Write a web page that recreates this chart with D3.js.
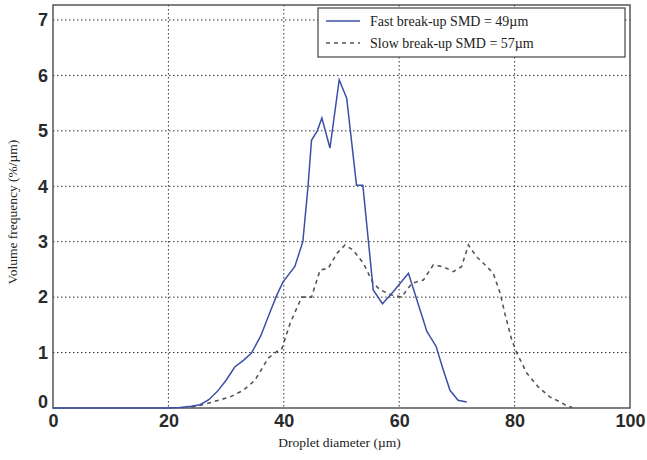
<!DOCTYPE html>
<html>
<head>
<meta charset="utf-8">
<script src="https://cdn.jsdelivr.net/npm/d3@7.9.0/dist/d3.min.js"></script>
<style>
  body { margin: 0; background: #fff; }
  svg { display: block; }
  .tick text { font-family: "Liberation Sans", Arial, sans-serif; font-size: 18px; font-weight: bold; fill: #2a2a2a; }
  .title { font-family: "Liberation Serif", "Times New Roman", serif; font-size: 13.5px; fill: #222; }
  .legend text { font-family: "Liberation Serif", "Times New Roman", serif; font-size: 14px; fill: #222; }
</style>
</head>
<body>
<svg id="chart" width="647" height="460"></svg>
<script>
// fast break-up curve (diameter in um, volume frequency in %/um)
const fastD = [0, 10, 20, 22, 24, 25.5, 27, 28.5, 30, 31.5, 33, 34.4, 36, 37.5, 38.8, 39.9, 41.9, 43.3, 44.2, 44.8, 45.8, 46.6, 48, 49.6, 50.9, 52.6, 53.7, 55.5, 57.1, 59, 61.6, 62.7, 64.8, 66.4, 67.6, 68.8, 70.2, 71.7];
const fastV = [0, 0, 0, 0.01, 0.03, 0.06, 0.15, 0.3, 0.5, 0.74, 0.86, 0.99, 1.3, 1.7, 2.04, 2.28, 2.55, 3.0, 4.0, 4.83, 5.0, 5.23, 4.69, 5.92, 5.59, 4.02, 4.02, 2.13, 1.88, 2.1, 2.43, 2.07, 1.38, 1.11, 0.7, 0.32, 0.14, 0.11];

// slow break-up curve
const slowD = [24, 26, 27.7, 30.7, 33, 35, 37.3, 38.8, 39.6, 41.1, 43.1, 44.8, 46.3, 47.7, 49.2, 50.6, 52, 53.8, 55.5, 56.7, 58.7, 60.4, 62.2, 64.2, 65.9, 67.6, 69.4, 70.8, 72, 73.4, 74.9, 76.3, 77.5, 78.3, 79.5, 80.4, 82.1, 84.1, 86.1, 87.9, 89, 90];
const slowV = [0.02, 0.06, 0.11, 0.2, 0.32, 0.5, 0.9, 1.02, 1.05, 1.53, 2.0, 2.0, 2.49, 2.52, 2.79, 2.94, 2.85, 2.61, 2.25, 2.13, 2.04, 2.0, 2.25, 2.31, 2.58, 2.55, 2.46, 2.55, 2.94, 2.73, 2.58, 2.43, 2.07, 1.71, 1.23, 0.99, 0.63, 0.38, 0.2, 0.11, 0.04, 0.01];

const xTicks = [0, 20, 40, 60, 80, 100];
const yTicks = [0, 1, 2, 3, 4, 5, 6, 7];
const legendLabels = ["Fast break-up SMD = 49\u00b5m", "Slow break-up SMD = 57\u00b5m"];

const svg = d3.select("#chart");
const mLeft = 53, mRight = 630, mTop = 5, mBottom = 408;

const x = d3.scaleLinear().domain([0, 100]).range([mLeft, mRight]);
const y = d3.scaleLinear().domain([0, 7.27]).range([mBottom, mTop]);

// grid
const grid = svg.append("g").attr("stroke", "#333").attr("stroke-width", 1).attr("stroke-dasharray", "1.5,2.5");
grid.selectAll(".gx").data(xTicks.slice(1, -1)).enter().append("line")
  .attr("x1", d => x(d)).attr("x2", d => x(d)).attr("y1", mTop).attr("y2", mBottom);
grid.selectAll(".gy").data(yTicks.slice(1)).enter().append("line")
  .attr("y1", d => y(d)).attr("y2", d => y(d)).attr("x1", mLeft).attr("x2", mRight);

// frame
svg.append("rect").attr("x", mLeft).attr("y", mTop).attr("width", mRight - mLeft).attr("height", mBottom - mTop)
  .attr("fill", "none").attr("stroke", "#555").attr("stroke-width", 1.5);

// axes
const xAxis = svg.append("g").attr("transform", `translate(0,${mBottom})`)
  .call(d3.axisBottom(x).tickValues(xTicks).tickSize(0).tickPadding(6));
xAxis.select(".domain").remove();

const yAxis = svg.append("g").attr("transform", `translate(${mLeft},0)`)
  .call(d3.axisLeft(y).tickValues(yTicks).tickSize(0).tickPadding(5));
yAxis.select(".domain").remove();
yAxis.selectAll(".tick").filter(d => d === 0).select("text").attr("dy", "-0.05em");

// curves
const line = d3.line().x(d => x(d[0])).y(d => y(d[1]));

svg.append("path").datum(slowD.map((d, i) => [d, slowV[i]]))
  .attr("d", line).attr("fill", "none").attr("stroke", "#555").attr("stroke-width", 1.6)
  .attr("stroke-dasharray", "4,4");

svg.append("path").datum(fastD.map((d, i) => [d, fastV[i]]))
  .attr("d", line).attr("fill", "none").attr("stroke", "#3c4fa6").attr("stroke-width", 1.5);

// axis titles
svg.append("text").attr("class", "title").attr("x", (mLeft + mRight) / 2 - 2).attr("y", 447)
  .attr("text-anchor", "middle").text("Droplet diameter (\u00b5m)");
svg.append("text").attr("class", "title").attr("transform", "translate(17,212) rotate(-90)")
  .attr("text-anchor", "middle").text("Volume frequency (%/\u00b5m)");

// legend
const lg = svg.append("g").attr("class", "legend");
lg.append("rect").attr("x", 318).attr("y", 8).attr("width", 307).attr("height", 49)
  .attr("fill", "#fff").attr("stroke", "#444").attr("stroke-width", 1.2);
const styles = [{ c: "#3c4fa6", dash: null }, { c: "#555", dash: "4,4" }];
legendLabels.forEach((t, i) => {
  const yy = 21 + i * 22;
  lg.append("line").attr("x1", 326).attr("x2", 360).attr("y1", yy).attr("y2", yy)
    .attr("stroke", styles[i].c).attr("stroke-width", 1.5).attr("stroke-dasharray", styles[i].dash);
  lg.append("text").attr("x", 370).attr("y", yy + 5).text(t);
});
</script>
</body>
</html>
